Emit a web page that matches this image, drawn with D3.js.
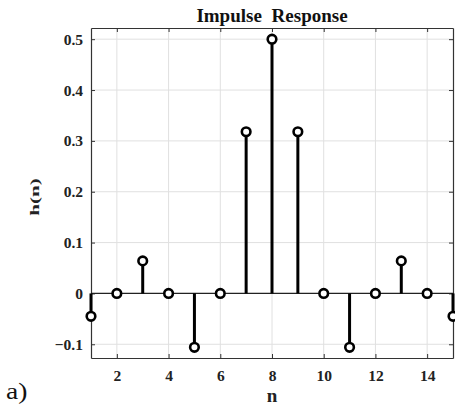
<!DOCTYPE html>
<html lang="en">
<head>
<meta charset="UTF-8">
<title>Impulse Response</title>
<style>
  body { margin: 0; background: #fff; }
  svg { display: block; }
  text { font-family: "Liberation Serif", "DejaVu Serif", serif; }
</style>
</head>
<body>
<svg width="455" height="405"></svg>
<script src="https://cdn.jsdelivr.net/npm/d3@7.8.5/dist/d3.min.js"></script>
<script>
const nValues = [1, 2, 3, 4, 5, 6, 7, 8, 9, 10, 11, 12, 13, 14, 15]
const hValues = [-0.045, 0, 0.064, 0, -0.106, 0, 0.318, 0.5, 0.318, 0, -0.106, 0, 0.064, 0, -0.045]
const xTicks = [2, 4, 6, 8, 10, 12, 14]
const yTicks = [-0.1, 0, 0.1, 0.2, 0.3, 0.4, 0.5]

const svg = d3.select('svg')
const plotLeft = 91, plotRight = 453, plotTop = 28, plotBottom = 358

const x = d3.scaleLinear().domain([1, 15]).range([plotLeft, plotRight])
const y = d3.scaleLinear().domain([-0.127, 0.522]).range([plotBottom, plotTop])

const data = nValues.map((n, i) => ({ n, h: hValues[i] }))

// grid
svg.append('g').selectAll('line').data(xTicks).join('line')
  .attr('x1', d => x(d)).attr('x2', d => x(d))
  .attr('y1', plotTop).attr('y2', plotBottom)
  .attr('stroke', '#e0e0e0').attr('stroke-width', 1)
svg.append('g').selectAll('line').data(yTicks).join('line')
  .attr('y1', d => y(d)).attr('y2', d => y(d))
  .attr('x1', plotLeft).attr('x2', plotRight)
  .attr('stroke', '#e0e0e0').attr('stroke-width', 1)

// axes (MATLAB box with inward ticks)
const tick = 4
const axB = svg.append('g').attr('transform', `translate(0,${plotBottom})`)
  .call(d3.axisBottom(x).tickValues(xTicks).tickSizeInner(-tick).tickSizeOuter(0).tickPadding(12))
const axT = svg.append('g').attr('transform', `translate(0,${plotTop})`)
  .call(d3.axisTop(x).tickValues(xTicks).tickSizeInner(-tick).tickSizeOuter(0).tickFormat(''))
const axL = svg.append('g').attr('transform', `translate(${plotLeft},0)`)
  .call(d3.axisLeft(y).tickValues(yTicks).tickSizeInner(-tick).tickSizeOuter(0).tickPadding(8)
    .tickFormat(d => d3.format('')(+d.toFixed(1))))
const axR = svg.append('g').attr('transform', `translate(${plotRight},0)`)
  .call(d3.axisRight(y).tickValues(yTicks).tickSizeInner(-tick).tickSizeOuter(0).tickFormat(''))

;[axB, axT, axL, axR].forEach(a => {
  a.select('.domain').attr('stroke', '#333').attr('stroke-width', 1.2)
  a.selectAll('.tick line').attr('stroke', '#333')
  a.selectAll('text').attr('font-family', '"Liberation Serif", serif')
    .attr('font-weight', 'bold').attr('font-size', 15.5).attr('fill', '#222')
})

// zero baseline
svg.append('line')
  .attr('x1', plotLeft).attr('x2', plotRight)
  .attr('y1', y(0)).attr('y2', y(0))
  .attr('stroke', '#222').attr('stroke-width', 1.2)

// stems
svg.append('g').selectAll('line').data(data).join('line')
  .attr('x1', d => x(d.n)).attr('x2', d => x(d.n))
  .attr('y1', y(0)).attr('y2', d => y(d.h))
  .attr('stroke', '#000').attr('stroke-width', 3)

svg.append('g').selectAll('circle').data(data).join('circle')
  .attr('cx', d => x(d.n)).attr('cy', d => y(d.h))
  .attr('r', 4.3)
  .attr('fill', '#fff').attr('stroke', '#000').attr('stroke-width', 2.6)

// labels
svg.append('text').attr('x', (plotLeft + plotRight) / 2).attr('y', 22)
  .attr('text-anchor', 'middle').attr('font-weight', 'bold').attr('font-size', 19)
  .attr('word-spacing', 5).attr('fill', '#111').text('Impulse Response')

svg.append('text').attr('x', (plotLeft + plotRight) / 2).attr('y', 402)
  .attr('text-anchor', 'middle').attr('font-weight', 'bold').attr('font-size', 19)
  .attr('fill', '#222').text('n')

// ylabel looks squeezed across its height in the source
svg.append('text').attr('transform', `translate(39,197) rotate(-90) scale(1,0.62)`)
  .attr('text-anchor', 'middle').attr('font-weight', 'bold').attr('font-size', 21)
  .attr('fill', '#222').text('h(n)')

svg.append('text').attr('transform', 'translate(6,399) scale(1.2,1)')
  .attr('font-size', 23).attr('fill', '#111').text('a)')
</script>
</body>
</html>
